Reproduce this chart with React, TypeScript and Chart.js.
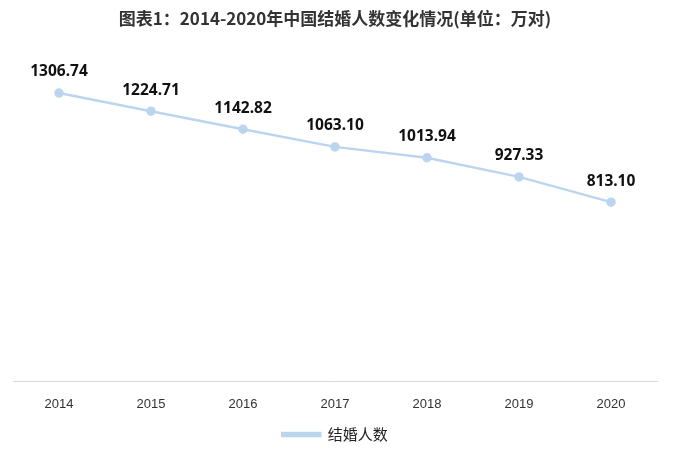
import React, { useEffect, useRef } from "react";
import { Chart, registerables } from "chart.js";

Chart.register(...registerables);

const titleText = "图表1：2014-2020年中国结婚人数变化情况(单位：万对)";
const categories = ["2014", "2015", "2016", "2017", "2018", "2019", "2020"];
const seriesName = "结婚人数";
const marriages = [1306.74, 1224.71, 1142.82, 1063.1, 1013.94, 927.33, 813.1];

const lineColor = "#bcd5ef";

const labelPlugin = {
  id: "valueLabels",
  afterDatasetsDraw(chart: any) {
    const ctx = chart.ctx;
    const meta = chart.getDatasetMeta(0);
    ctx.save();
    ctx.font = "bold 15.5px 'Noto Sans', 'Liberation Sans', sans-serif";
    ctx.fillStyle = "#111111";
    ctx.textAlign = "center";
    ctx.textBaseline = "middle";
    meta.data.forEach((pt: any, i: number) => {
      ctx.fillText(marriages[i].toFixed(2), pt.x, pt.y - 21);
    });
    ctx.restore();
  },
};

export default function App() {
  const ref = useRef<HTMLCanvasElement>(null);
  useEffect(() => {
    document.body.style.margin = "0";
    const chart = new Chart(ref.current!, {
      type: "line",
      data: {
        labels: categories,
        datasets: [
          {
            label: seriesName,
            data: marriages,
            borderColor: lineColor,
            backgroundColor: lineColor,
            borderWidth: 2.5,
            pointRadius: 3.5,
            pointBackgroundColor: lineColor,
            pointBorderColor: lineColor,
            tension: 0,
          },
        ],
      },
      options: {
        animation: false,
        responsive: false,
        maintainAspectRatio: false,
        layout: { padding: { left: 13, right: 32, top: 0, bottom: 8 } },
        plugins: {
          title: {
            display: true,
            text: titleText,
            color: "#333333",
            font: { size: 17, weight: "bold", family: "'Noto Sans CJK SC', sans-serif" },
            padding: { top: 8, bottom: 44 },
          },
          legend: {
            position: "bottom",
            labels: {
              color: "#222222",
              font: { size: 15, family: "'Noto Sans CJK SC', sans-serif" },
              boxWidth: 38,
              boxHeight: 3,
              padding: 7.5,
            },
          },
          tooltip: { enabled: false },
        },
        scales: {
          x: {
            type: "category",
            offset: true,
            grid: { display: false },
            border: { display: true, color: "#d9d9d9", width: 1 },
            ticks: {
              color: "#333333",
              font: { size: 13, family: "'Liberation Sans', sans-serif" },
              padding: 7,
            },
          },
          y: {
            display: false,
            min: 0,
            max: 1400,
          },
        },
      },
      plugins: [labelPlugin],
    });
    return () => chart.destroy();
  }, []);
  return (
    <div style={{ width: 689, height: 460, background: "#fff" }}>
      <canvas ref={ref} width={689} height={460} />
    </div>
  );
}
